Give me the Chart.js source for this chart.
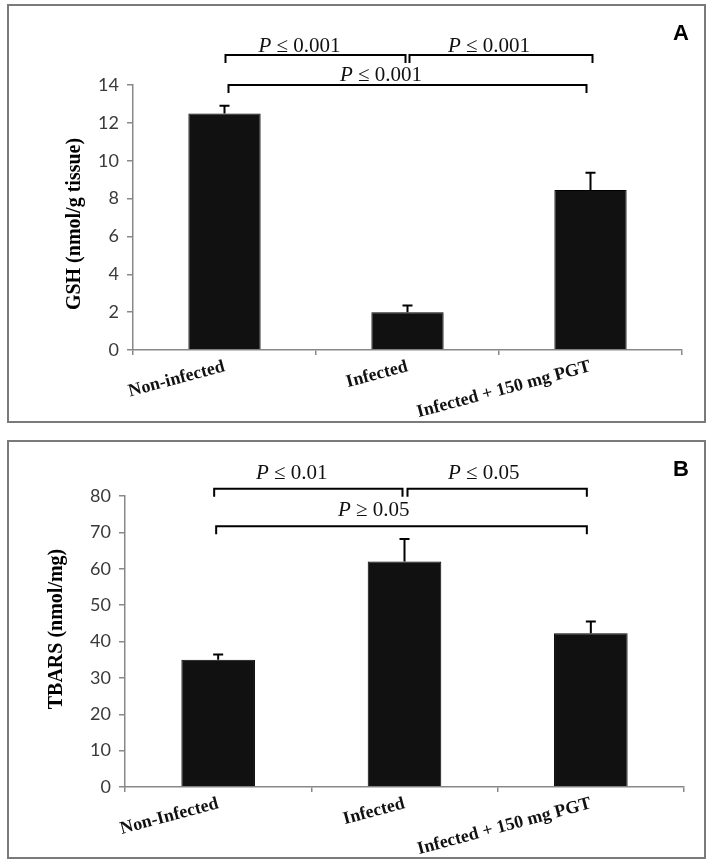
<!DOCTYPE html>
<html>
<head>
<meta charset="utf-8">
<script src="https://cdn.jsdelivr.net/npm/chart.js@4.4.0/dist/chart.umd.min.js"></script>
<style>
  body { margin: 0; background: #fff; width: 710px; height: 867px; position: relative; }
  .panel { position: absolute; left: 7px; width: 695px; height: 415px; border: 2px solid #7a7a7a; }
  #panelA { top: 4px; }
  #panelB { top: 440px; }
  canvas { display: block; }
</style>
</head>
<body>
<div class="panel" id="panelA"><canvas id="gshChart" width="695" height="415"></canvas></div>
<div class="panel" id="panelB"><canvas id="tbarsChart" width="695" height="415"></canvas></div>
<script>
// Panel A: GSH
const gshLabels = ['Non-infected', 'Infected', 'Infected + 150 mg PGT'];
const gshValues = [12.5, 2.0, 8.45];
const gshErrors = [0.4, 0.35, 0.92];
const gshComparisons = [[0, 1, '≤', '0.001'], [1, 2, '≤', '0.001'], [0, 2, '≤', '0.001']];

// Panel B: TBARS
const tbarsLabels = ['Non-Infected', 'Infected', 'Infected + 150 mg PGT'];
const tbarsValues = [35.0, 62.0, 42.3];
const tbarsErrors = [1.4, 6.2, 3.2];
const tbarsComparisons = [[0, 1, '≤', '0.01'], [1, 2, '≤', '0.05'], [0, 2, '≥', '0.05']];

const serif = '"Liberation Serif", "Times New Roman", serif';

const errorBars = {
    id: 'errorBars',
    afterDatasetsDraw(chart, args, opts) {
        const meta = chart.getDatasetMeta(0);
        const y = chart.scales.y;
        const values = chart.data.datasets[0].data;
        const ctx = chart.ctx;
        ctx.save();
        ctx.strokeStyle = '#000';
        ctx.lineWidth = 2;
        meta.data.forEach((bar, i) => {
            const top = y.getPixelForValue(values[i] + opts.errors[i]);
            ctx.beginPath();
            ctx.moveTo(bar.x, bar.y);
            ctx.lineTo(bar.x, top);
            ctx.moveTo(bar.x - 5, top);
            ctx.lineTo(bar.x + 5, top);
            ctx.stroke();
        });
        ctx.restore();
    }
};

// significance brackets, panel letter and y title
const decorations = {
    id: 'decorations',
    afterDraw(chart, args, opts) {
        const ctx = chart.ctx;
        const x = chart.scales.x;
        const y = chart.scales.y;
        ctx.save();

        ctx.strokeStyle = '#000';
        ctx.lineWidth = 2;
        opts.comparisons.forEach(([from, to, sign, p], i) => {
            const b = opts.brackets[i];
            const x1 = x.getPixelForValue(from) + b.inset[0];
            const x2 = x.getPixelForValue(to) + b.inset[1];
            const yy = y.getPixelForValue(b.level);
            ctx.beginPath();
            ctx.moveTo(x1, yy + 8);
            ctx.lineTo(x1, yy);
            ctx.lineTo(x2, yy);
            ctx.lineTo(x2, yy + 8);
            ctx.stroke();

            // label: italic P, then the relation
            const italic = 'italic 21px ' + serif;
            const plain = '21px ' + serif;
            const rest = ' ' + sign + ' ' + p;
            ctx.font = italic;
            const wP = ctx.measureText('P').width;
            ctx.font = plain;
            const wR = ctx.measureText(rest).width;
            const cx = x.getPixelForValue(b.textAt);
            const by = yy - b.gap;
            ctx.fillStyle = '#111';
            ctx.textBaseline = 'alphabetic';
            ctx.textAlign = 'left';
            ctx.font = italic;
            ctx.fillText('P', cx - (wP + wR) / 2, by);
            ctx.font = plain;
            ctx.fillText(rest, cx - (wP + wR) / 2 + wP, by);
        });

        ctx.fillStyle = '#000';
        ctx.font = 'bold 22px "Liberation Sans", Arial, sans-serif';
        ctx.textAlign = 'center';
        ctx.textBaseline = 'alphabetic';
        ctx.fillText(opts.letter, 672, 34);

        ctx.translate(opts.titleX, opts.titleY);
        ctx.rotate(-Math.PI / 2);
        ctx.textBaseline = 'middle';
        ctx.font = 'bold 20px ' + serif;
        ctx.fillText(opts.title, 0, 0);
        ctx.restore();
    }
};

function buildChart(canvasId, p) {
    return new Chart(document.getElementById(canvasId), {
        type: 'bar',
        data: {
            labels: p.labels,
            datasets: [{
                data: p.values,
                backgroundColor: '#111',
                borderColor: '#000',
                borderWidth: 1,
                categoryPercentage: 1,
                barPercentage: 0.395
            }]
        },
        options: {
            responsive: false,
            animation: false,
            layout: { padding: { top: p.top, right: p.right, left: 0, bottom: 0 } },
            plugins: {
                legend: { display: false },
                tooltip: { enabled: false },
                errorBars: { errors: p.errors },
                decorations: {
                    comparisons: p.comparisons,
                    brackets: p.brackets,
                    letter: p.letter,
                    title: p.title,
                    titleX: p.titleX,
                    titleY: p.titleY
                }
            },
            scales: {
                x: {
                    grid: { display: true, offset: true, drawOnChartArea: false, color: '#888', tickLength: 5, lineWidth: 1.5 },
                    border: { color: '#888', width: 1.5 },
                    ticks: {
                        color: '#111',
                        font: { family: serif, size: 18, weight: 'bold' },
                        minRotation: 15,
                        maxRotation: 15,
                        padding: 1
                    },
                    afterFit(scale) { scale.height = p.xHeight; }
                },
                y: {
                    min: 0,
                    max: p.max,
                    ticks: {
                        stepSize: p.step,
                        color: '#3a3a3a',
                        padding: 8,
                        font: { family: 'Lato, "Open Sans", sans-serif', size: 18 }
                    },
                    grid: { drawOnChartArea: false, color: '#888', tickLength: 6, lineWidth: 1.5 },
                    border: { color: '#888', width: 1.5 },
                    afterFit(scale) { scale.width = p.yWidth; }
                }
            }
        },
        plugins: [errorBars, decorations]
    });
}

buildChart('gshChart', {
    labels: gshLabels, values: gshValues, errors: gshErrors, comparisons: gshComparisons,
    brackets: [
        { level: 15.58, inset: [1, -2], textAt: 0.41, gap: 3 },
        { level: 15.58, inset: [2, 2], textAt: 1.445, gap: 3 },
        { level: 14.0, inset: [4, -4], textAt: 0.855, gap: 4 }
    ],
    max: 14, step: 2, letter: 'A', title: 'GSH (nmol/g tissue)', titleX: 66, titleY: 218,
    top: 79, right: 22, yWidth: 124, xHeight: 71
});

buildChart('tbarsChart', {
    labels: tbarsLabels, values: tbarsValues, errors: tbarsErrors, comparisons: tbarsComparisons,
    brackets: [
        { level: 82.0, inset: [-4, -2], textAt: 0.395, gap: 10 },
        { level: 82.0, inset: [3, -4], textAt: 1.425, gap: 10 },
        { level: 71.7, inset: [-2, -4], textAt: 0.835, gap: 10 }
    ],
    max: 80, step: 10, letter: 'B', title: 'TBARS (nmol/mg)', titleX: 48, titleY: 187,
    top: 54, right: 20, yWidth: 116, xHeight: 70
});
</script>
</body>
</html>
